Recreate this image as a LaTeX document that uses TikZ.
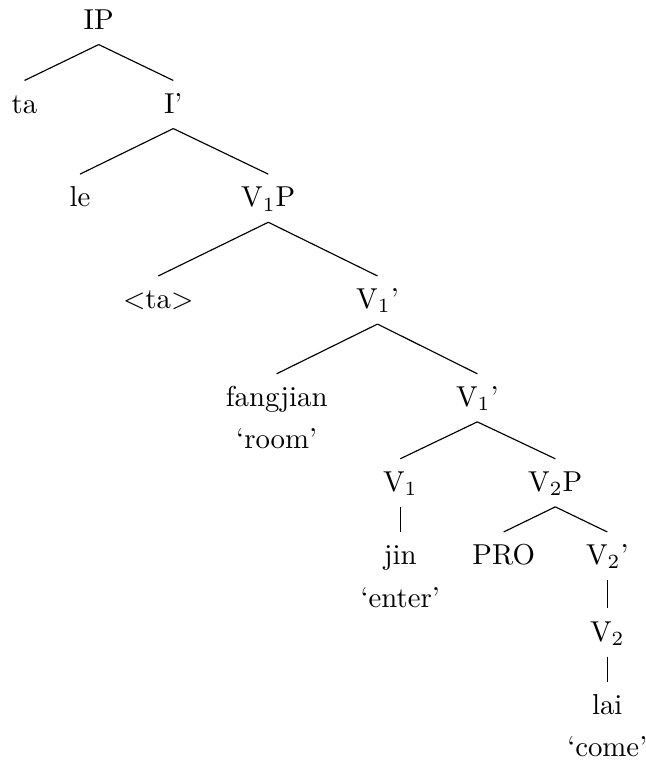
\documentclass[tikz,border=0pt]{standalone}
\usepackage{tikz}
\usetikzlibrary{positioning}

\begin{document}
\begin{tikzpicture}[x=0.3472pt, y=0.3472pt, node distance=1.1pt,
                cat node/.style={anchor=base, inner sep=3pt, text height=8.1pt, text depth=2.2pt},
                gloss node/.style={inner sep=0pt, text height=8.1pt, text depth=2.2pt}]

      \useasboundingbox (0,0) rectangle (646,-760);

      \node[cat node] (IP) at (98.7,-29) {IP};
      \node[cat node] (ta) at (24.5,-113) {ta};
      \node[cat node] (I1) at (173.3,-113) {I'};
      \node[cat node] (le) at (80,-206.7) {le};
      \node[cat node] (V1P) at (268.3,-206.7) {V$_1$P};
      \node[cat node] (ta2) at (158.3,-308.5) {$<$ta$>$};
      \node[cat node] (V1a) at (377.5,-308.5) {V$_1$'};
      \node[cat node] (fangjian) at (276.7,-406.3) {fangjian};
      \node[gloss node] (room) [below=of fangjian] {`room'};
      \node[cat node] (V1b) at (477.3,-406.3) {V$_1$'};
      \node[cat node] (V1) at (400.3,-491.3) {V$_1$};
      \node[cat node] (V2P) at (555.3,-491.3) {V$_2$P};
      \node[cat node] (jin) at (400.3,-564.5) {jin};
      \node[gloss node] (enter) [below=of jin] {`enter'};
      \node[cat node] (PRO) at (503.7,-564.5) {PRO};
      \node[cat node] (V2b) at (607.3,-564.5) {V$_2$'};
      \node[cat node] (V2) at (607.3,-641) {V$_2$};
      \node[cat node] (lai) at (607.3,-714.3) {lai};
      \node[gloss node] (come) [below=of lai] {`come'};

      \draw (IP.south) -- (ta.north);
      \draw (IP.south) -- (I1.north);
      \draw (I1.south) -- (le.north);
      \draw (I1.south) -- (V1P.north);
      \draw (V1P.south) -- (ta2.north);
      \draw (V1P.south) -- (V1a.north);
      \draw (V1a.south) -- (fangjian.north);
      \draw (V1a.south) -- (V1b.north);
      \draw (V1b.south) -- (V1.north);
      \draw (V1b.south) -- (V2P.north);
      \draw (V1.south) -- (jin.north);
      \draw (V2P.south) -- (PRO.north);
      \draw (V2P.south) -- (V2b.north);
      \draw (V2b.south) -- (V2.north);
      \draw (V2.south) -- (lai.north);
  \end{tikzpicture}
\end{document}
